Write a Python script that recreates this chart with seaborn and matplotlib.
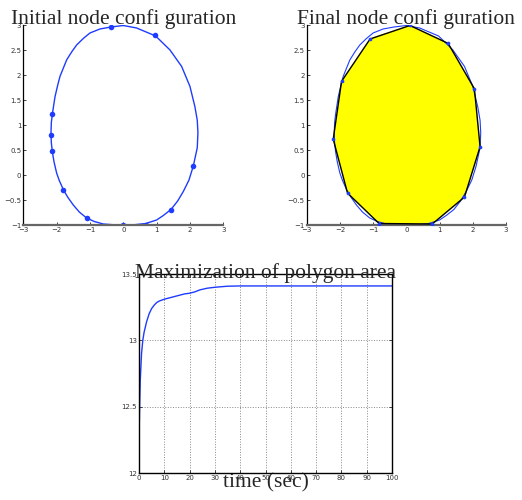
import numpy as np
import matplotlib
matplotlib.use("Agg")
import matplotlib.pyplot as plt
import pandas as pd
import seaborn as sns

# egg shaped boundary curve
curve_x = [0.0, 0.4, 0.97, 1.4, 1.75, 2.0, 2.15, 2.22, 2.24, 2.22, 2.1, 1.97, 1.8, 1.63, 1.43, 1.2,
           1.0, 0.67, 0.33, 0.0, -0.3, -0.6, -0.87, -1.1, -1.32, -1.5, -1.67, -1.8, -1.92, -2.0,
           -2.08, -2.13, -2.16, -2.17, -2.16, -2.13, -2.05, -1.97, -1.9, -1.7, -1.55, -1.4, -1.2,
           -1.0, -0.7, -0.37, 0.0]
curve_y = [3.0, 2.95, 2.79, 2.51, 2.18, 1.78, 1.37, 1.1, 0.85, 0.55, 0.18, -0.1, -0.33, -0.52, -0.69, -0.81,
           -0.9, -0.97, -0.995, -1.0, -0.995, -0.98, -0.93, -0.86, -0.74, -0.6, -0.44, -0.29, -0.11, 0.04,
           0.27, 0.47, 0.65, 0.85, 1.05, 1.22, 1.57, 1.8, 1.98, 2.31, 2.47, 2.61, 2.74,
           2.85, 2.93, 2.97, 3.0]

# initial node positions
init_x = [-0.38, 0.96, -2.14, -2.18, -2.14, 2.1, -1.81, 1.44, -1.1, 0.0, 0.67]
init_y = [2.97, 2.80, 1.23, 0.80, 0.48, 0.18, -0.29, -0.69, -0.85, -1.0, -0.99]

# final node positions (polygon order)
final_x = [0.11, 1.26, 2.05, 2.22, 1.75, 0.78, -0.82, -1.77, -2.2, -1.95, -1.09]
final_y = [3.0, 2.64, 1.73, 0.57, -0.44, -0.98, -0.97, -0.36, 0.72, 1.88, 2.73]

# polygon area over time
t_sec = [0, 0.1, 0.3, 0.5, 1.0, 1.5, 2, 3, 4, 5, 6, 7, 8, 10, 12, 15, 18, 20, 22, 24, 27, 30, 35,
         40, 50, 60, 70, 80, 90, 100]
area = [12.12, 12.35, 12.55, 12.7, 12.9, 13.0, 13.06, 13.14, 13.2, 13.24, 13.265, 13.285, 13.296,
        13.31, 13.32, 13.335, 13.35, 13.355, 13.365, 13.38, 13.393, 13.40, 13.408,
        13.41, 13.41, 13.41, 13.41, 13.41, 13.41, 13.41]

sns.set_style("white")
plt.rcParams['font.family'] = ['DejaVu Sans']
serif = ['Liberation Serif', 'DejaVu Serif']
blue = '#1e3cff'

curve = pd.DataFrame({'x': curve_x, 'y': curve_y})
init = pd.DataFrame({'x': init_x, 'y': init_y})
final = pd.DataFrame({'x': final_x, 'y': final_y})
hist = pd.DataFrame({'t': t_sec, 'area': area})

fig = plt.figure(figsize=(5.22, 5.0), dpi=100)
ax1 = fig.add_axes([0.0447, 0.55, 0.383, 0.399])
ax2 = fig.add_axes([0.5875, 0.55, 0.3818, 0.399])
ax3 = fig.add_axes([0.2663, 0.054, 0.4847, 0.398])


def style_top(ax, title):
    ax.set_xlim(-3, 3)
    ax.set_ylim(-1, 3)
    ax.set_xticks([-3, -2, -1, 0, 1, 2, 3])
    ax.set_yticks([-1, -0.5, 0, 0.5, 1, 1.5, 2, 2.5, 3])
    ax.set_yticklabels(['\u22121', '\u22120.5', '0', '0.5', '1', '1.5', '2', '2.5', '3'])
    ax.set_xticklabels(['\u22123', '\u22122', '\u22121', '0', '1', '2', '3'])
    for s in ['top', 'right']:
        ax.spines[s].set_visible(False)
    ax.spines['left'].set_color('black')
    ax.spines['left'].set_linewidth(0.9)
    ax.spines['bottom'].set_color('#666666')
    ax.spines['bottom'].set_linewidth(1.6)
    ax.tick_params(direction='in', length=2.5, width=0.6, labelsize=5, pad=1.5,
                   labelcolor='#333333', bottom=True, left=True)
    ax.set_xlabel('')
    ax.set_ylabel('')
    ax.set_title(title, family=serif, fontsize=15.5, pad=1)


# initial configuration
sns.lineplot(data=curve, x='x', y='y', sort=False, estimator=None, color=blue, lw=1.0, ax=ax1)
sns.scatterplot(data=init, x='x', y='y', color=blue, s=16, edgecolor=blue, linewidth=0, ax=ax1)
style_top(ax1, 'Initial node confi guration')

# final configuration
ax2.fill(final_x + final_x[:1], final_y + final_y[:1], color='#ffff00', zorder=1)
sns.lineplot(data=curve, x='x', y='y', sort=False, estimator=None, color=blue, lw=0.8, ax=ax2, zorder=2)
closed = pd.concat([final, final.iloc[:1]], ignore_index=True)
sns.lineplot(data=closed, x='x', y='y', sort=False, estimator=None, color='black', lw=1.0, ax=ax2, zorder=3)
sns.scatterplot(data=final, x='x', y='y', color=blue, s=7, edgecolor=blue, linewidth=0, ax=ax2, zorder=4)
style_top(ax2, 'Final node confi guration')

# area history
sns.lineplot(data=hist, x='t', y='area', color=blue, lw=1.0, ax=ax3)
ax3.set_xlim(0, 100)
ax3.set_ylim(12, 13.5)
ax3.set_xticks(range(0, 101, 10))
ax3.set_yticks([12, 12.5, 13, 13.5])
ax3.set_yticklabels(['12', '12.5', '13', '13.5'])
ax3.grid(True, color='#888888', linestyle=':', linewidth=0.7)
for s in ax3.spines.values():
    s.set_visible(True)
    s.set_color('black')
    s.set_linewidth(1.0)
ax3.tick_params(direction='in', length=2.5, width=0.6, labelsize=5, pad=1.5,
                labelcolor='#333333', bottom=True, left=True, top=True, right=True)
ax3.set_ylabel('')
ax3.set_xlabel('time (sec)', family=serif, fontsize=15.5, labelpad=-6)
ax3.set_title('Maximization of polygon area', family=serif, fontsize=15.5, pad=-3)

fig.savefig('out.png', dpi=100)
